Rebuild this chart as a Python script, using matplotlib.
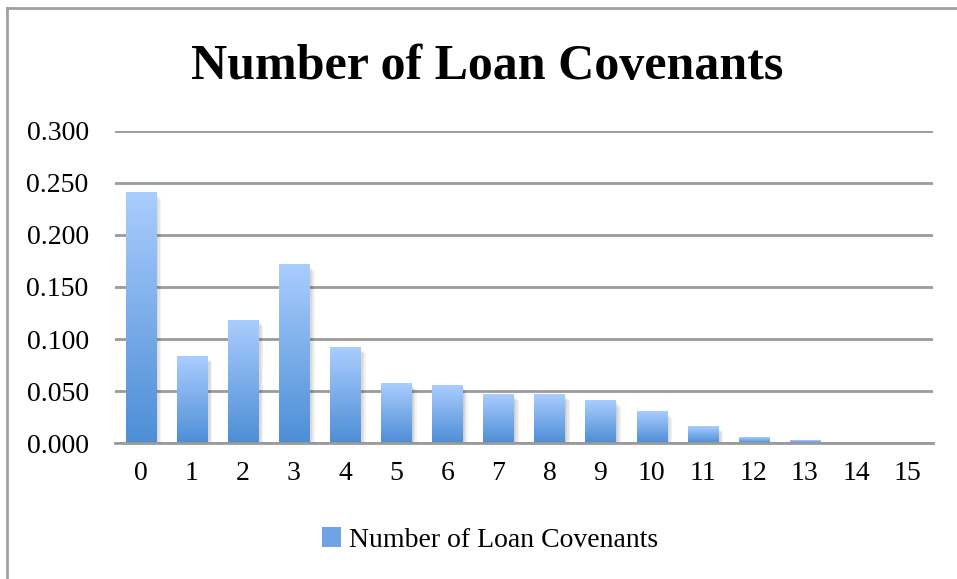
import numpy as np
import matplotlib
matplotlib.use("Agg")
import matplotlib.pyplot as plt
import matplotlib.patheffects as pe
from matplotlib.lines import Line2D
from matplotlib.colors import LinearSegmentedColormap
from matplotlib.patches import Patch

# share of loans by number of covenants
covenants = [str(i) for i in range(16)]
shares = [0.240, 0.083, 0.118, 0.171, 0.0915, 0.057, 0.055, 0.0464,
          0.0464, 0.0405, 0.030, 0.0157, 0.0052, 0.0021, 0.0, 0.0]
y_ticks = [0.0, 0.05, 0.10, 0.15, 0.20, 0.25, 0.30]
series_name = "Number of Loan Covenants"

plt.rcParams['font.family'] = ['Liberation Serif', 'DejaVu Serif']

fig = plt.figure(figsize=(9.57, 5.79), dpi=100)
ax = fig.add_axes([0.1202, 0.2344, 0.8544, 0.5400])

x = np.arange(len(covenants))
bars = ax.bar(x, shares, width=0.59, color='none', zorder=3)

# vertical blue gradient inside every bar, plus a soft drop shadow
grad = LinearSegmentedColormap.from_list('blu', ['#4d8ed6', '#aacdfe'])
ramp = np.linspace(0, 1, 256).reshape(-1, 1)
soft = [pe.SimplePatchShadow(offset=(o, -o), shadow_rgbFace='#000000', alpha=0.05)
        for o in (1, 2, 3, 4)]
for b in bars:
    h = b.get_height()
    if h <= 0:
        continue
    x0, w = b.get_x(), b.get_width()
    ax.bar(x0 + w / 2, h, width=w, color='#ffffff', zorder=2,
           path_effects=soft + [pe.Normal()])
    ax.imshow(ramp, cmap=grad, aspect='auto', origin='lower',
              extent=(x0, x0 + w, 0, h), zorder=3, interpolation='bilinear')

ax.set_xlim(-0.5, len(covenants) - 0.5)
ax.set_ylim(0, 0.30)
ax.set_xticks(x)
ax.set_xticklabels(covenants)
ax.set_yticks(y_ticks)
ax.set_yticklabels([f"{v:.3f}" for v in y_ticks])
ax.tick_params(axis='both', length=0, labelsize=20, colors='#000000')
ax.tick_params(axis='x', pad=13)
ax.tick_params(axis='y', pad=19)
ax.yaxis.grid(True, color='#9a9a9a', linewidth=2, zorder=1)
ax.set_axisbelow(True)
for s in ['top', 'right', 'left']:
    ax.spines[s].set_visible(False)
ax.spines['bottom'].set_color('#9a9a9a')
ax.spines['bottom'].set_linewidth(2)
ax.spines['bottom'].set_zorder(4)

fig.text(0.509, 0.885, series_name, ha='center', va='center',
         fontsize=36, fontweight='bold')

handle = Patch(facecolor='#6fa3e6', edgecolor='none')
fig.legend([handle], [series_name], loc='center', bbox_to_anchor=(0.5120, 0.0674),
           frameon=False, fontsize=20, handlelength=0.7, handleheight=0.7,
           handletextpad=0.3)

# chart area border
fig.add_artist(Line2D([7.5 / 957, 7.5 / 957], [0, 1 - 8 / 579], color='#a0a0a0', lw=2))
fig.add_artist(Line2D([7.5 / 957, 1], [1 - 8 / 579, 1 - 8 / 579], color='#a0a0a0', lw=2))

fig.savefig('out.png', dpi=100)
